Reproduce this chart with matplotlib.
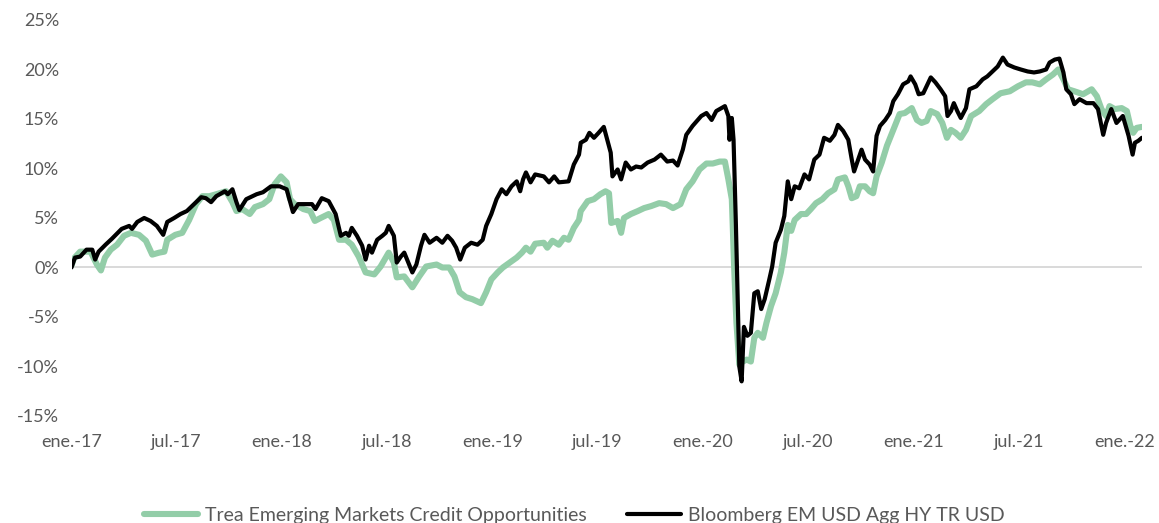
import matplotlib
matplotlib.use("Agg")
import matplotlib.pyplot as plt
import pandas as pd

# ---------------- data ----------------
trea_dates = [
    "2017-01-01", "2017-01-05", "2017-01-16", "2017-02-03", "2017-02-14", "2017-02-21", "2017-02-28",
    "2017-03-10", "2017-03-21", "2017-04-02", "2017-04-14", "2017-04-28", "2017-05-10", "2017-05-21",
    "2017-06-02", "2017-06-11", "2017-06-16", "2017-06-30", "2017-07-12", "2017-07-24", "2017-08-05",
    "2017-08-16", "2017-08-28", "2017-09-09", "2017-09-26", "2017-10-07", "2017-10-14", "2017-10-24",
    "2017-11-06", "2017-11-15", "2017-11-29", "2017-12-10", "2017-12-19", "2017-12-30",
    "2018-01-09", "2018-01-15", "2018-01-23", "2018-02-07", "2018-02-19", "2018-02-27", "2018-03-09",
    "2018-03-23", "2018-04-01", "2018-04-10", "2018-04-22", "2018-05-02", "2018-05-14", "2018-05-26",
    "2018-06-10", "2018-06-21", "2018-07-05", "2018-07-14", "2018-07-19", "2018-08-01", "2018-08-15",
    "2018-08-27", "2018-09-08", "2018-09-26", "2018-10-06", "2018-10-18", "2018-10-27", "2018-11-05",
    "2018-11-16", "2018-11-27", "2018-12-12", "2018-12-21", "2018-12-30",
    "2019-01-10", "2019-01-19", "2019-01-31", "2019-02-12", "2019-02-21", "2019-02-28", "2019-03-08",
    "2019-03-16", "2019-03-31", "2019-04-06", "2019-04-15", "2019-04-26", "2019-05-05", "2019-05-13",
    "2019-05-22", "2019-05-31", "2019-06-03", "2019-06-15", "2019-06-26", "2019-07-07", "2019-07-16",
    "2019-07-22", "2019-07-26", "2019-08-06", "2019-08-12", "2019-08-17", "2019-08-29", "2019-09-10",
    "2019-09-21", "2019-10-03", "2019-10-17", "2019-10-29", "2019-11-10", "2019-11-23", "2019-12-03",
    "2019-12-14", "2019-12-26",
    "2020-01-07", "2020-01-18", "2020-01-30", "2020-02-08", "2020-02-14", "2020-02-20", "2020-02-24",
    "2020-02-28", "2020-03-04", "2020-03-10", "2020-03-17", "2020-03-24", "2020-03-30", "2020-04-05",
    "2020-04-14", "2020-04-20", "2020-04-28", "2020-05-06", "2020-05-15", "2020-05-21", "2020-05-27",
    "2020-06-02", "2020-06-08", "2020-06-19", "2020-06-28", "2020-07-06", "2020-07-15", "2020-07-26",
    "2020-08-05", "2020-08-16", "2020-08-22", "2020-09-03", "2020-09-09", "2020-09-15", "2020-09-23",
    "2020-09-29", "2020-10-08", "2020-10-16", "2020-10-22", "2020-10-28", "2020-11-06", "2020-11-15",
    "2020-11-26", "2020-12-07", "2020-12-16", "2020-12-28",
    "2021-01-06", "2021-01-14", "2021-01-23", "2021-01-30", "2021-02-10", "2021-02-19", "2021-02-27",
    "2021-03-06", "2021-03-14", "2021-03-23", "2021-04-01", "2021-04-10", "2021-04-24", "2021-05-06",
    "2021-05-17", "2021-05-31", "2021-06-16", "2021-06-30", "2021-07-14", "2021-07-25", "2021-08-07",
    "2021-08-18", "2021-08-30", "2021-09-08", "2021-09-17", "2021-09-25", "2021-10-06", "2021-10-21",
    "2021-11-05", "2021-11-14", "2021-11-22", "2021-11-30", "2021-12-06", "2021-12-15", "2021-12-27",
    "2022-01-05", "2022-01-11", "2022-01-16", "2022-01-22", "2022-01-31",
]
trea = [
    0.2, 0.9, 1.6, 1.6, 0.3, -0.3, 1.0,
    1.8, 2.3, 3.2, 3.5, 3.3, 2.7, 1.3,
    1.5, 1.6, 2.8, 3.3, 3.5, 4.8, 6.4,
    7.2, 7.2, 7.4, 7.7, 6.6, 5.7, 5.9,
    5.4, 6.1, 6.4, 6.9, 8.4, 9.2,
    8.6, 6.9, 6.4, 5.9, 5.7, 4.7, 5.0,
    5.4, 4.8, 2.8, 2.8, 2.3, 1.1, -0.5,
    -0.7, 0.1, 1.5, 0.5, -1.0, -0.9, -2.0,
    -0.9, 0.1, 0.3, 0.0, 0.0, -0.9, -2.5,
    -3.0, -3.2, -3.6, -2.5, -1.2,
    -0.5, 0.0, 0.5, 1.0, 1.5, 2.0, 1.6,
    2.4, 2.5, 2.0, 2.7, 2.3, 3.0, 2.8,
    4.0, 4.8, 5.7, 6.7, 6.9, 7.4, 7.7,
    7.5, 4.5, 4.7, 3.5, 5.0, 5.4, 5.7,
    6.0, 6.2, 6.5, 6.4, 6.0, 6.4, 7.9,
    8.7, 9.9,
    10.5, 10.5, 10.7, 10.7, 8.9, 6.9, 0.1,
    -5.6, -9.8, -9.5, -9.3, -9.5, -7.1, -6.6,
    -7.1, -5.6, -3.9, -2.6, -0.5, 1.5, 4.3,
    3.7, 4.8, 5.4, 5.4, 5.9, 6.5, 6.9,
    7.5, 7.9, 8.9, 9.1, 8.2, 7.0, 7.2,
    8.2, 8.2, 7.7, 7.5, 9.2, 10.6, 12.3,
    13.9, 15.5, 15.6, 16.1,
    14.9, 14.6, 14.8, 15.8, 15.5, 14.6, 13.1,
    13.9, 13.6, 13.1, 13.9, 15.3, 15.8, 16.5,
    17.0, 17.6, 17.8, 18.3, 18.7, 18.7, 18.5,
    19.0, 19.5, 20.0, 19.0, 18.0, 17.8, 17.5,
    18.0, 17.3, 16.0, 15.3, 16.3, 16.0, 16.1,
    15.8, 14.3, 13.6, 14.1, 14.2,
]

bench_dates = [
    "2017-01-01", "2017-01-07", "2017-01-16", "2017-01-27", "2017-02-06", "2017-02-11", "2017-02-17",
    "2017-03-01", "2017-03-12", "2017-03-29", "2017-04-11", "2017-04-16", "2017-04-25", "2017-05-07",
    "2017-05-18", "2017-05-29", "2017-06-09", "2017-06-16", "2017-06-28", "2017-07-09", "2017-07-20",
    "2017-07-29", "2017-08-14", "2017-08-22", "2017-08-31", "2017-09-09", "2017-09-24", "2017-09-29",
    "2017-10-07", "2017-10-14", "2017-10-19", "2017-10-31", "2017-11-18", "2017-11-29", "2017-12-13",
    "2017-12-28",
    "2018-01-09", "2018-01-20", "2018-01-29", "2018-02-10", "2018-02-22", "2018-02-28", "2018-03-11",
    "2018-03-23", "2018-04-04", "2018-04-13", "2018-04-22", "2018-04-27", "2018-05-02", "2018-05-11",
    "2018-05-20", "2018-05-26", "2018-06-01", "2018-06-06", "2018-06-15", "2018-06-24", "2018-06-30",
    "2018-07-05", "2018-07-14", "2018-07-19", "2018-07-26", "2018-08-01", "2018-08-08", "2018-08-15",
    "2018-08-22", "2018-08-30", "2018-09-05", "2018-09-14", "2018-09-26", "2018-10-06", "2018-10-15",
    "2018-10-23", "2018-10-30", "2018-11-06", "2018-11-14", "2018-11-25", "2018-12-06", "2018-12-15",
    "2018-12-21", "2018-12-30",
    "2019-01-08", "2019-01-17", "2019-01-25", "2019-02-03", "2019-02-12", "2019-02-18", "2019-02-23",
    "2019-02-28", "2019-03-08", "2019-03-16", "2019-03-31", "2019-04-09", "2019-04-18", "2019-04-26",
    "2019-05-13", "2019-05-22", "2019-05-31", "2019-06-03", "2019-06-12", "2019-06-18", "2019-06-26",
    "2019-07-04", "2019-07-13", "2019-07-19", "2019-07-25", "2019-07-28", "2019-08-06", "2019-08-12",
    "2019-08-20", "2019-08-29", "2019-09-07", "2019-09-16", "2019-09-27", "2019-10-09", "2019-10-20",
    "2019-10-31", "2019-11-10", "2019-11-18", "2019-11-27", "2019-12-03", "2019-12-14", "2019-12-29",
    "2020-01-07", "2020-01-16", "2020-01-24", "2020-02-02", "2020-02-08", "2020-02-14", "2020-02-16",
    "2020-02-20", "2020-02-23", "2020-02-27", "2020-03-01", "2020-03-04", "2020-03-08", "2020-03-12",
    "2020-03-18", "2020-03-24", "2020-03-30", "2020-04-05", "2020-04-11", "2020-04-17", "2020-04-25",
    "2020-04-30", "2020-05-06", "2020-05-15", "2020-05-21", "2020-05-27", "2020-06-02", "2020-06-08",
    "2020-06-16", "2020-06-25", "2020-07-03", "2020-07-12", "2020-07-21", "2020-07-29", "2020-08-08",
    "2020-08-16", "2020-08-22", "2020-08-31", "2020-09-09", "2020-09-15", "2020-09-19", "2020-09-26",
    "2020-10-02", "2020-10-08", "2020-10-16", "2020-10-22", "2020-10-28", "2020-11-03", "2020-11-12",
    "2020-11-20", "2020-11-26", "2020-12-04", "2020-12-13", "2020-12-22", "2020-12-26",
    "2021-01-03", "2021-01-09", "2021-01-17", "2021-01-26", "2021-01-30", "2021-02-07", "2021-02-16",
    "2021-02-24", "2021-02-28", "2021-03-06", "2021-03-11", "2021-03-17", "2021-03-23", "2021-04-01",
    "2021-04-07", "2021-04-19", "2021-04-30", "2021-05-08", "2021-05-17", "2021-05-26", "2021-06-04",
    "2021-06-12", "2021-06-24", "2021-07-05", "2021-07-17", "2021-07-28", "2021-08-07", "2021-08-18",
    "2021-08-24", "2021-09-02", "2021-09-10", "2021-09-17", "2021-09-22", "2021-09-30", "2021-10-06",
    "2021-10-15", "2021-10-27", "2021-11-08", "2021-11-16", "2021-11-25", "2021-11-30", "2021-12-09",
    "2021-12-18", "2021-12-29", "2022-01-08", "2022-01-15", "2022-01-19", "2022-01-25", "2022-01-31",
]
bench = [
    0.0, 1.0, 1.1, 1.8, 1.8, 0.8, 1.6,
    2.3, 2.9, 3.9, 4.2, 3.9, 4.6, 5.0,
    4.7, 4.2, 3.3, 4.6, 5.0, 5.4, 5.7,
    6.2, 7.1, 7.0, 6.6, 7.2, 7.7, 7.4,
    7.9, 6.6, 5.8, 6.9, 7.4, 7.6, 8.2,
    8.2,
    7.9, 5.6, 6.4, 6.4, 6.4, 5.9, 7.0,
    6.7, 5.4, 3.2, 3.5, 3.2, 4.0, 3.2,
    2.2, 0.8, 2.2, 1.5, 2.8, 3.2, 3.5,
    4.2, 3.2, 0.5, 1.1, 1.5, 0.5, -0.5,
    0.3, 2.2, 3.3, 2.5, 3.0, 2.5, 3.2,
    2.7, 2.0, 0.8, 2.0, 2.5, 2.3, 2.8,
    4.2, 5.4,
    6.9, 7.9, 7.4, 8.2, 8.7, 7.7, 8.9,
    9.6, 8.6, 9.4, 9.2, 8.6, 9.2, 8.6,
    8.7, 10.4, 11.4, 12.6, 12.9, 13.6, 13.1,
    13.6, 14.2, 12.9, 11.6, 9.2, 9.9, 8.9,
    10.6, 9.9, 10.2, 10.1, 10.6, 10.9, 11.4,
    10.7, 10.8, 10.3, 11.9, 13.4, 14.3, 15.3,
    15.6, 14.9, 15.8, 16.1, 16.3, 15.3, 12.9,
    15.1, 12.9, 4.5, -2.9, -10.0, -11.5, -6.0,
    -6.9, -6.6, -2.6, -2.4, -4.2, -3.2, -1.2,
    0.1, 2.5, 3.8, 5.2, 8.7, 6.9, 8.2,
    8.0, 9.4, 8.9, 10.9, 11.4, 13.1, 12.8,
    13.4, 14.4, 13.8, 12.9, 10.9, 9.7, 10.9,
    11.9, 10.9, 10.4, 9.7, 13.3, 14.3, 14.9,
    15.6, 16.8, 17.5, 18.5, 18.8, 19.3,
    18.5, 17.5, 17.6, 18.7, 19.2, 18.7, 18.0,
    17.3, 15.3, 15.8, 16.6, 15.8, 15.1, 16.1,
    18.0, 18.3, 19.0, 19.3, 19.8, 20.3, 21.2,
    20.5, 20.2, 20.0, 19.8, 19.7, 19.8, 20.0,
    20.7, 21.0, 21.1, 19.7, 18.0, 17.5, 16.5,
    17.0, 16.6, 16.6, 16.0, 13.4, 14.6, 16.0,
    14.6, 15.3, 13.3, 11.4, 12.6, 12.8, 13.1,
]

series_labels = ["Trea Emerging Markets Credit Opportunities", "Bloomberg EM USD Agg HY TR USD"]
tick_dates = ["2017-01-01", "2017-07-01", "2018-01-01", "2018-07-01", "2019-01-01", "2019-07-01",
              "2020-01-01", "2020-07-01", "2021-01-01", "2021-07-01", "2022-01-01"]
tick_labels = ["ene.-17", "jul.-17", "ene.-18", "jul.-18", "ene.-19", "jul.-19",
               "ene.-20", "jul.-20", "ene.-21", "jul.-21", "ene.-22"]
y_ticks = [-15, -10, -5, 0, 5, 10, 15, 20, 25]

# ---------------- plot ----------------
plt.rcParams["font.family"] = ["Lato", "DejaVu Sans"]
TEXT = "#595959"

fig = plt.figure(figsize=(11.59, 5.23), dpi=100)
ax = fig.add_axes([0.0617, 0.2046, 0.9235, 0.7572])

ax.plot(pd.to_datetime(trea_dates), trea, color="#93CDA8", lw=4.4,
        solid_joinstyle="round", solid_capstyle="round", label=series_labels[0], zorder=3)
ax.plot(pd.to_datetime(bench_dates), bench, color="#000000", lw=3.0,
        solid_joinstyle="round", solid_capstyle="round", label=series_labels[1], zorder=4)

ax.axhline(0, color="#D9D9D9", lw=1.4, zorder=1)

ax.set_ylim(-15, 25)
ax.set_yticks(y_ticks)
ax.set_yticklabels([f"{v}%" for v in y_ticks])
ax.set_xlim(pd.Timestamp("2017-01-01"), pd.Timestamp("2022-01-31"))
ax.set_xticks(pd.to_datetime(tick_dates))
ax.set_xticklabels(tick_labels)

for s in ax.spines.values():
    s.set_visible(False)
ax.tick_params(axis="both", length=0, labelsize=13, colors=TEXT)
ax.tick_params(axis="y", pad=9)
ax.tick_params(axis="x", pad=13)

fig.legend(loc="center", bbox_to_anchor=(0.4955, 0.014), ncol=2, frameon=False,
           fontsize=14, handlelength=2.75, handletextpad=0.35, columnspacing=2.1,
           labelcolor=TEXT)

fig.savefig("out.png", dpi=100)
